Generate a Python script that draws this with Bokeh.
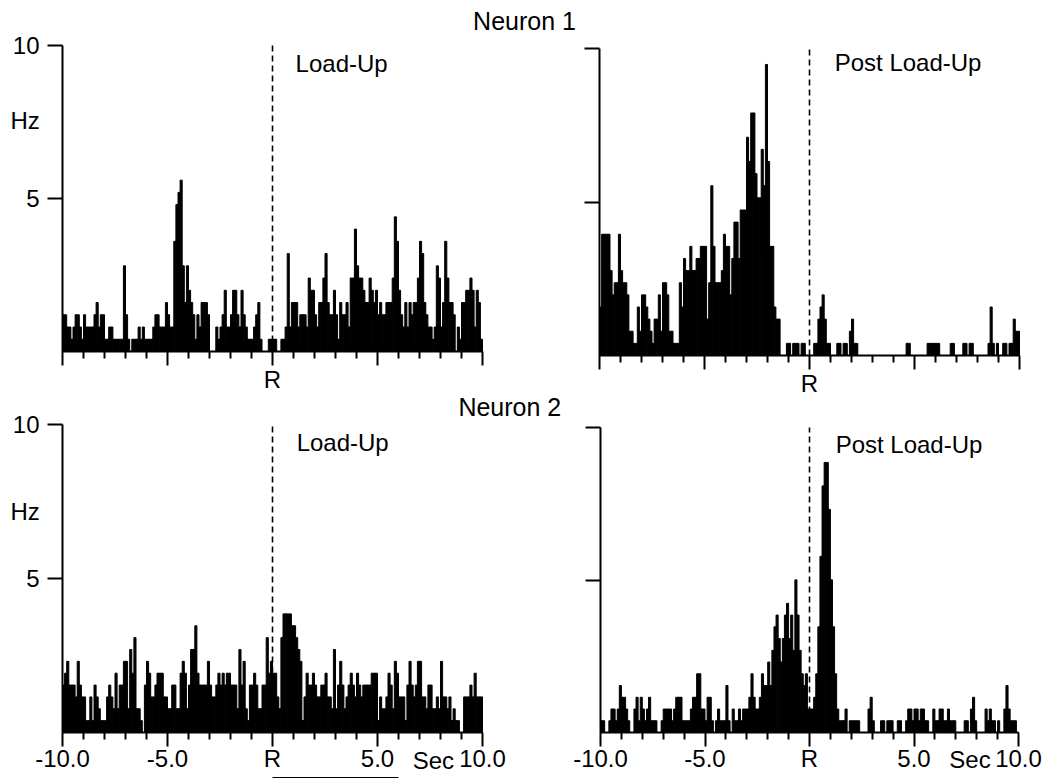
import numpy as np
from bokeh.plotting import figure
from bokeh.models import Range1d, FixedTicker, Label, LinearAxis
from bokeh.embed import file_html
from bokeh.resources import INLINE

FONT = "Liberation Sans"

# ---------------- data (spike counts per 0.1 s bin) ----
BIN_WIDTH = 0.1
BIN_START = -10.0

# Neuron 1, Load-Up : bins -10..0 s and 0..+10 s
n1_loadup_neg = [3,3,2,2,1,2,3,3,2,1, 3,2,2,2,2,3,4,2,3,3, 1,1,2,2,1,1,1,1,1,7,
                 3,1,0,1,1,1,2,1,2,1, 1,1,1,2,3,3,2,2,2,4, 3,2,2,9,12,13,14,7,4,7,
                 5,4,3,1,3,2,4,4,4,3, 0,0,0,2,1,2,3,5,2,2, 3,5,5,3,2,5,3,2,1,1,
                 1,2,3,4,1,0,0,0,1,1]
n1_loadup_pos = [1,1,0,0,1,1,2,8,2,4, 4,4,2,3,3,3,2,6,5,5, 3,2,4,4,6,8,4,3,3,5,
                 3,1,4,3,3,4,2,6,6,10, 7,6,6,5,4,4,6,5,4,5, 3,4,3,3,4,4,4,6,11,9,
                 5,3,2,4,2,4,3,4,4,6, 9,8,4,3,2,2,1,2,7,6, 2,4,9,6,4,4,3,0,2,1,
                 4,4,5,5,6,5,2,5,4,1]
# Neuron 1, Post Load-Up
n1_post_neg = [4,10,10,10,10,7,5,6,6,10, 7,6,6,5,2,2,1,1,4,2, 5,5,4,3,2,1,3,3,5,2,
               6,6,5,2,2,1,1,1,6,4, 8,7,7,9,7,7,8,8,9,9, 9,3,6,14,9,6,6,6,7,10,
               9,9,5,8,11,11,8,12,12,12, 18,16,20,20,15,13,13,17,14,24,
               16,9,9,4,3,3,0,0,0,1, 1,0,1,1,1,0,1,1,0,0]
n1_post_pos = [0,0,1,1,3,4,5,3,1,1, 0,0,0,1,1,0,1,1,0,2, 3,1,1,0,0,0,0,0,0,0,
               0,0,0,0,0,0,0,0,0,0, 0,0,0,0,0,0,1,1,0,0, 0,0,0,0,0,0,1,1,1,1,
               1,1,0,0,0,0,0,1,1,0, 0,0,0,1,1,0,1,1,0,0, 0,0,0,0,0,1,4,1,0,1,
               0,0,1,1,0,1,1,3,2,2]
# Neuron 2, Load-Up
n2_loadup_neg = [4,5,6,4,4,4,3,6,4,3, 3,1,1,3,1,4,3,2,1,1, 1,3,4,3,2,5,2,4,4,6,
                 6,2,7,5,8,2,2,1,0,4, 6,5,3,3,4,5,5,5,3,3, 2,2,4,4,2,2,5,6,5,2,
                 4,7,7,9,5,4,4,4,4,6, 4,3,3,4,5,4,5,4,5,5, 4,4,4,2,7,4,6,2,1,4,
                 4,5,4,2,2,4,4,8,5,6]
n2_loadup_pos = [5,5,3,2,8,10,10,10,10,9, 9,8,7,6,1,3,5,4,4,5, 4,3,3,4,4,5,3,3,2,7,
                 2,4,6,4,2,3,4,5,4,3, 5,4,3,4,4,4,4,5,5,5, 1,3,2,2,3,5,4,2,6,5,
                 3,3,3,1,4,6,4,3,4,6, 6,3,3,2,4,4,2,2,3,2, 6,3,3,2,3,1,2,1,1,0,
                 0,3,3,3,4,3,5,3,3,3]
# Neuron 2, Post Load-Up
n2_post_neg = [1,1,0,0,1,2,2,1,2,4, 3,3,2,1,0,0,2,3,1,3, 2,1,2,3,1,1,1,0,0,1,
               2,2,2,2,1,2,3,3,3,1, 1,1,1,2,3,3,5,5,2,2, 1,3,3,1,0,1,2,1,1,1,
               4,1,0,2,1,1,2,1,2,2, 2,3,5,3,2,2,3,5,4,4, 6,4,7,9,10,8,6,8,10,11,
               8,10,7,13,10,7,5,4,5,2]
n2_post_pos = [2,2,3,5,9,15,21,23,23,19, 13,9,5,2,1,1,1,2,0,1, 1,1,1,1,0,0,0,0,2,3,
               1,0,0,0,1,1,0,1,1,1, 0,0,1,1,0,0,1,2,2,1, 2,2,1,2,2,1,1,0,0,2,
               1,1,2,2,1,1,2,1,1,1, 0,0,0,0,1,1,0,2,3,1, 0,0,0,0,2,1,2,1,1,0,
               1,0,0,2,4,2,1,1,1,0]

# Hz represented by one count in each histogram
hz_per_count = {"n1_loadup": 0.40, "n1_post": 0.395, "n2_loadup": 0.385, "n2_post": 0.385}

panel_titles = {"n1_loadup": "Load-Up", "n1_post": "Post Load-Up",
                "n2_loadup": "Load-Up", "n2_post": "Post Load-Up"}
neuron_titles = ["Neuron 1", "Neuron 2"]

X_MIN, X_MAX = -10, 10          # seconds around R
Y_MIN, Y_MAX = 0, 10            # Hz
R_TIME = 0
x_ticks = [-10, -5, 0, 5, 10]
x_minor_ticks = [-9, -8, -7, -6, -4, -3, -2, -1, 1, 2, 3, 4, 6, 7, 8, 9]
x_labels_top = {-10: "", -5: "", 0: "R", 5: "", 10: ""}
x_labels_bottom = {-10: "-10.0", -5: "-5.0", 0: "R", 5: "5.0", 10: "10.0"}
y_ticks = [5, 10]
y_labels_shown = {5: "5", 10: "10"}
y_labels_hidden = {5: "", 10: ""}
bar_period = (0, 6)             # black bar under the Neuron 2 Load-Up axis

# ---------------- layout (pixel boxes of each panel's plotting area) --------
W, H = 1061, 778
geom = {
    "n1_loadup": dict(x0=62, x1=482, top=45, base=351),
    "n1_post":   dict(x0=599, x1=1019, top=48, base=355),
    "n2_loadup": dict(x0=62, x1=482, top=424, base=732),
    "n2_post":   dict(x0=600, x1=1018, top=427, base=732),
}

p = figure(width=W, height=H, x_range=Range1d(0, W), y_range=Range1d(0, H),
           x_axis_type=None, y_axis_type=None, output_backend="svg",
           toolbar_location=None, tools="", min_border=0)
p.outline_line_color = None
p.background_fill_color = "white"
p.border_fill_color = "white"

xr, yr = {}, {}
for name, g in geom.items():
    sx = (X_MAX - X_MIN) / (g["x1"] - g["x0"])
    xr[name] = Range1d(X_MIN - g["x0"] * sx, X_MAX + (W - g["x1"]) * sx)
    sy = (Y_MAX - Y_MIN) / (g["base"] - g["top"])
    yr[name] = Range1d(Y_MIN - (H - g["base"]) * sy, Y_MAX + g["top"] * sy)
p.extra_x_ranges = xr
p.extra_y_ranges = yr

series = {
    "n1_loadup": n1_loadup_neg + n1_loadup_pos,
    "n1_post": n1_post_neg + n1_post_pos,
    "n2_loadup": n2_loadup_neg + n2_loadup_pos,
    "n2_post": n2_post_neg + n2_post_pos,
}


def label(name, x, y, text, align="left", size="24px"):
    p.add_layout(Label(x=x, y=y, text=text, x_range_name=name, y_range_name=name,
                       text_font=FONT, text_font_size=size, text_align=align,
                       text_baseline="middle", text_color="black"))


for name, counts in series.items():
    top_row = name.startswith("n1")
    left_col = name.endswith("loadup")
    centers = BIN_START + BIN_WIDTH * (np.arange(len(counts)) + 0.5)
    hz = np.array(counts, dtype=float) * hz_per_count[name]
    p.vbar(x=centers, top=hz, bottom=0, width=BIN_WIDTH,
           fill_color="black", line_color="black", line_width=1.0,
           x_range_name=name, y_range_name=name)

    # dashed line at R
    p.segment(x0=[R_TIME], y0=[Y_MIN], x1=[R_TIME], y1=[Y_MAX],
              line_color="black", line_width=1.6, line_dash="6 4",
              x_range_name=name, y_range_name=name)

    xa = LinearAxis(x_range_name=name, y_range_name=name,
                    fixed_location=Y_MIN, bounds=(X_MIN, X_MAX),
                    ticker=FixedTicker(ticks=x_ticks, minor_ticks=x_minor_ticks),
                    major_label_overrides=x_labels_top if top_row else x_labels_bottom)
    xa.axis_line_width = 2
    xa.major_tick_line_width = 2
    xa.minor_tick_line_width = 2
    xa.major_tick_out = 14
    xa.major_tick_in = 0
    xa.minor_tick_out = 7
    xa.minor_tick_in = 0
    xa.major_label_standoff = 0 if top_row else -2
    xa.major_label_text_font = FONT
    xa.major_label_text_font_size = "24px"
    xa.major_label_text_color = "black"
    p.add_layout(xa, "below")

    ya = LinearAxis(x_range_name=name, y_range_name=name,
                    fixed_location=X_MIN, bounds=(Y_MIN, Y_MAX),
                    ticker=FixedTicker(ticks=y_ticks),
                    major_label_overrides=y_labels_shown if left_col else y_labels_hidden)
    ya.axis_line_width = 2
    ya.major_tick_line_width = 2
    ya.major_tick_out = 15
    ya.major_tick_in = 0
    ya.minor_tick_line_color = None
    ya.major_label_standoff = 8
    ya.major_label_text_font = FONT
    ya.major_label_text_font_size = "24px"
    ya.major_label_text_color = "black"
    p.add_layout(ya, "left")

# panel captions
label("n1_loadup", 1.1, 9.4, panel_titles["n1_loadup"])
label("n1_post", 1.2, 9.53, panel_titles["n1_post"])
label("n2_loadup", 1.15, 9.4, panel_titles["n2_loadup"])
label("n2_post", 1.25, 9.44, panel_titles["n2_post"])

# neuron headings
label("n1_loadup", 12.0, 10.8, neuron_titles[0], align="center", size="25px")
label("n2_loadup", 11.3, 10.58, neuron_titles[1], align="center", size="25px")

# unit labels
label("n1_loadup", -12.48, 7.55, "Hz")
label("n2_loadup", -12.48, 7.18, "Hz")
label("n2_loadup", 7.66, -0.9, "Sec", align="center")
label("n2_post", 7.68, -0.9, "Sec", align="center")

# black bar under the bottom-left axis
p.segment(x0=[bar_period[0]], y0=[-1.47], x1=[bar_period[1]], y1=[-1.47],
          line_color="black", line_width=1.6,
          x_range_name="n2_loadup", y_range_name="n2_loadup")

open("out.html", "w").write(file_html(p, INLINE))
